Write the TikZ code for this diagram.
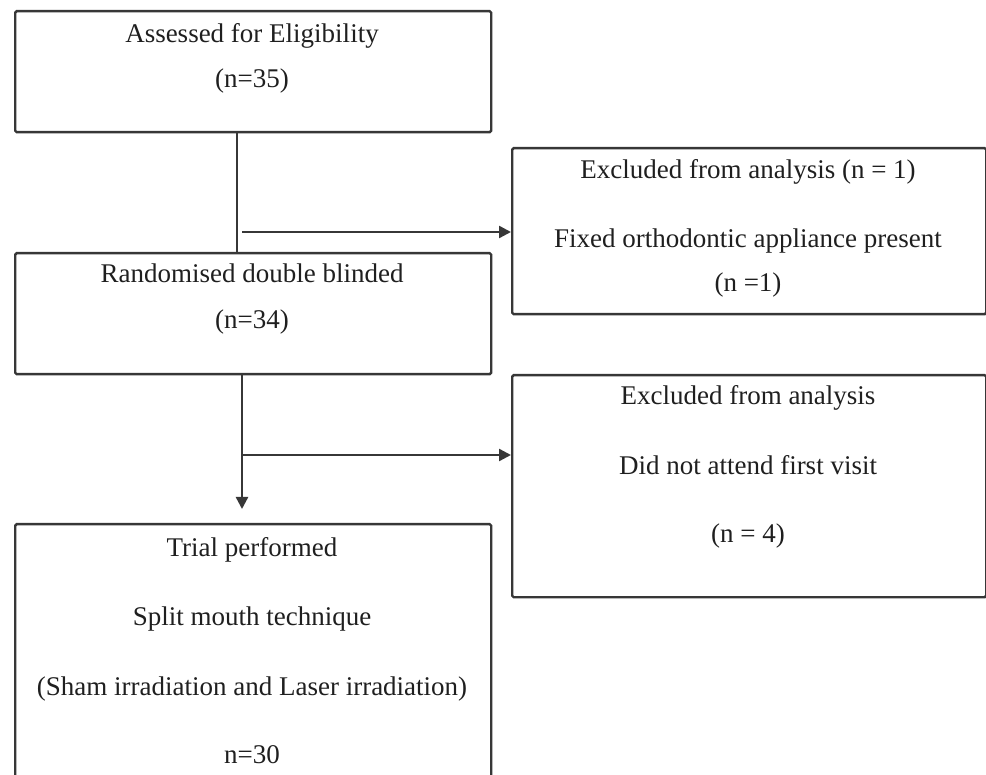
\documentclass[tikz,border=0pt]{standalone}
\usepackage{fontspec}
\setmainfont{Liberation Serif}
\usetikzlibrary{arrows.meta,calc}
\definecolor{linec}{RGB}{55,55,55}
\begin{document}
\begin{tikzpicture}[x=1pt,y=-1pt,
  box/.style={draw=linec, line width=2.4pt, rounded corners=1.5pt, anchor=north west, inner sep=0pt},
  txt/.style={anchor=base, font=\fontsize{27}{32}\selectfont, text=black!88, inner sep=0pt},
  conn/.style={draw=linec, line width=2.4pt},
  arr/.style={conn, -{Triangle[length=12pt,width=12pt]}}]
\useasboundingbox (0,0) rectangle (986,775);
\clip (0,0) rectangle (986,775);
% boxes
\node[box, minimum width=476pt, minimum height=121pt] (b1) at (14,10) {};
\node[box, minimum width=474pt, minimum height=166pt] (b2) at (511,147) {};
\node[box, minimum width=476pt, minimum height=121pt] (b3) at (14,252) {};
\node[box, minimum width=474pt, minimum height=222pt] (b4) at (511,374) {};
\node[box, minimum width=476pt, minimum height=300pt] (b5) at (14,523) {};
% connectors
\coordinate (v1) at (237,0);
\coordinate (v2) at (242,0);
\coordinate (j1) at (242,232);
\coordinate (j2) at (242,455);
\coordinate (e2) at (242,509);
\draw[conn] (b1.south -| v1) -- (b3.north -| v1);
\draw[arr] (j1) -- (j1 -| b2.west);
\draw[arr] (b3.south -| v2) -- (e2);
\draw[arr] (j2) -- (j2 -| b4.west);
% texts
\node[txt] (t1a) at (252,43) {Assessed for Eligibility};
\node[txt] (t1b) at (252,88) {(n=35)};
\node[txt] (t2a) at (748,179) {Excluded from analysis (n = 1)};
\node[txt] (t2b) at (748,248) {Fixed orthodontic appliance present};
\node[txt] (t2c) at (748,292) {(n =1)};
\node[txt] (t3a) at (252,283) {Randomised double blinded};
\node[txt] (t3b) at (252,329) {(n=34)};
\node[txt] (t4a) at (748,405) {Excluded from analysis};
\node[txt] (t4b) at (748,475) {Did not attend first visit};
\node[txt] (t4c) at (748,543) {(n = 4)};
\node[txt] (t5a) at (252,557) {Trial performed};
\node[txt] (t5b) at (252,625) {Split mouth technique};
\node[txt] (t5c) at (252,695) {(Sham irradiation and Laser irradiation)};
\node[txt] (t5d) at (252,763) {n=30};
\end{tikzpicture}
\end{document}
